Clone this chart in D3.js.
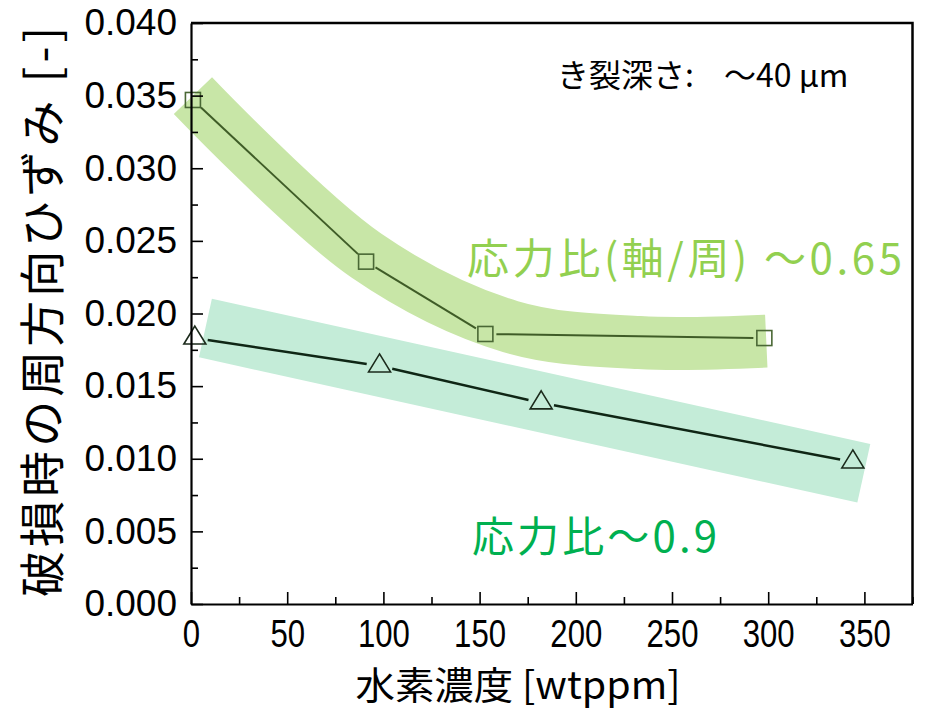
<!DOCTYPE html>
<html>
<head>
<meta charset="utf-8">
<script src="https://cdn.jsdelivr.net/npm/d3@7"></script>
<style>
	body { margin: 0; background: #fff; }
</style>
</head>
<body>
<script>
// Hydrogen concentration [wtppm] vs hoop strain at failure
const hydrogenSq = [1, 91, 153, 298]; // stress ratio ~0.65 (squares)
const strainSq = [0.0347, 0.02357, 0.01859, 0.01831];
const hydrogenTri = [2, 98, 182, 344]; // stress ratio ~0.9 (triangles)
const strainTri = [0.01831, 0.01639, 0.01385, 0.00978];

// centre lines of the shaded trend bands
const bandGreenX = [1, 91, 166, 233, 299];
const bandGreenY = [0.035, 0.0240, 0.0191, 0.0180, 0.0181];
const bandTealX = [7.5, 349.7];
const bandTealY = [0.0190, 0.0090];

// ticks
const xTicks = [0, 50, 100, 150, 200, 250, 300, 350];
const xMinor = [25, 75, 125, 175, 225, 275, 325, 375];
const yTicks = [0, 0.005, 0.01, 0.015, 0.02, 0.025, 0.03, 0.035, 0.04];
const yMinor = [0.0025, 0.0075, 0.0125, 0.0175, 0.0225, 0.0275, 0.0325, 0.0375];

const w = 926, h = 714;
const plotLeft = 191, plotRight = 912.5, plotTop = 23, plotBottom = 604;

const svg = d3.select("body").append("svg").attr("width", w).attr("height", h);

const x = d3.scaleLinear().domain([0, 375]).range([plotLeft, plotRight]);
const y = d3.scaleLinear().domain([0, 0.04]).range([plotBottom, plotTop]);

// bands
const bandLine = d3.line().x((d) => x(d[0])).y((d) => y(d[1]));
svg.append("path")
	.attr("d", bandLine.curve(d3.curveCatmullRom)(d3.zip(bandGreenX, bandGreenY)))
	.attr("fill", "none")
	.attr("stroke", "#c8e6a7")
	.attr("stroke-width", 53)
	.attr("stroke-linecap", "butt");
svg.append("path")
	.attr("d", bandLine.curve(d3.curveLinear)(d3.zip(bandTealX, bandTealY)))
	.attr("fill", "none")
	.attr("stroke", "#c4ecd8")
	.attr("stroke-width", 60)
	.attr("stroke-linecap", "butt");

// line segments that stop short of the markers
function drawSegments(xs, ys, gap, color, width) {
	for (let i = 0; i < xs.length - 1; i++) {
		const x1 = x(xs[i]), y1 = y(ys[i]), x2 = x(xs[i + 1]), y2 = y(ys[i + 1]);
		const len = Math.hypot(x2 - x1, y2 - y1);
		const ux = (x2 - x1) / len, uy = (y2 - y1) / len;
		svg.append("line")
			.attr("x1", x1 + ux * gap).attr("y1", y1 + uy * gap)
			.attr("x2", x2 - ux * gap).attr("y2", y2 - uy * gap)
			.attr("stroke", color)
			.attr("stroke-width", width);
	}
}
drawSegments(hydrogenSq, strainSq, 11, "#3f5c27", 2);
drawSegments(hydrogenTri, strainTri, 13, "#0f2615", 2.5);

// markers
svg.selectAll("rect.sq")
	.data(d3.zip(hydrogenSq, strainSq))
	.enter()
	.append("rect")
	.attr("class", "sq")
	.attr("x", (d) => x(d[0]) - 7.5)
	.attr("y", (d) => y(d[1]) - 7.5)
	.attr("width", 15)
	.attr("height", 15)
	.attr("fill", "none")
	.attr("stroke", "#4a6835")
	.attr("stroke-width", 1.6);

svg.selectAll("path.tri")
	.data(d3.zip(hydrogenTri, strainTri))
	.enter()
	.append("path")
	.attr("class", "tri")
	.attr("d", "M0,-12L11,6L-11,6Z")
	.attr("transform", (d) => `translate(${x(d[0])},${y(d[1])})`)
	.attr("fill", "none")
	.attr("stroke", "#1b2a1b")
	.attr("stroke-width", 1.6);

// x axis
const gx = svg.append("g")
	.attr("transform", `translate(0,${plotBottom})`)
	.call(d3.axisBottom(x).tickValues(xTicks).tickSizeInner(-12).tickSizeOuter(0).tickFormat(d3.format("d")));
gx.select(".domain").attr("stroke-width", 2.2);
gx.selectAll(".tick line").attr("stroke-width", 1.6);
gx.selectAll(".tick text")
	.attr("y", 16)
	.attr("dy", "0.71em")
	.attr("transform", "scale(0.82,1)")
	.attr("font-family", "'Liberation Sans', Arial, sans-serif")
	.attr("font-size", 38)
	.attr("fill", "#000");

svg.append("g")
	.attr("transform", `translate(0,${plotBottom})`)
	.call(d3.axisBottom(x).tickValues(xMinor).tickSizeInner(-7).tickSizeOuter(0).tickFormat(""))
	.call((g) => g.select(".domain").remove())
	.selectAll(".tick line").attr("stroke-width", 1.6);

// y axis
const gy = svg.append("g")
	.attr("transform", `translate(${plotLeft},0)`)
	.call(d3.axisLeft(y).tickValues(yTicks).tickSizeInner(-12).tickSizeOuter(0).tickPadding(14).tickFormat(d3.format(".3f")));
gy.select(".domain").attr("stroke-width", 2.2);
gy.selectAll(".tick line").attr("stroke-width", 1.6);
gy.selectAll(".tick text")
	.attr("font-family", "'Liberation Sans', Arial, sans-serif")
	.attr("font-size", 37)
	.attr("fill", "#000");

svg.append("g")
	.attr("transform", `translate(${plotLeft},0)`)
	.call(d3.axisLeft(y).tickValues(yMinor).tickSizeInner(-7).tickSizeOuter(0).tickFormat(""))
	.call((g) => g.select(".domain").remove())
	.selectAll(".tick line").attr("stroke-width", 1.6);

// frame top and right
svg.append("path")
	.attr("d", `M${plotLeft},${plotTop}H${plotRight}V${plotBottom}`)
	.attr("fill", "none")
	.attr("stroke", "#000")
	.attr("stroke-width", 2.5);

// axis titles
const cjk = "'Noto Sans CJK JP', 'Noto Sans', sans-serif";
svg.append("text")
	.attr("transform", "translate(59,312) rotate(-90)")
	.attr("text-anchor", "middle")
	.attr("font-family", cjk)
	.attr("font-size", 46)
	.attr("textLength", 570)
	.attr("lengthAdjust", "spacing")
	.text("破損時の周方向ひずみ [-]");

svg.append("text")
	.attr("x", 518)
	.attr("y", 699)
	.attr("text-anchor", "middle")
	.attr("font-family", cjk)
	.attr("font-size", 38)
	.attr("textLength", 325)
	.attr("lengthAdjust", "spacingAndGlyphs")
	.text("水素濃度 [wtppm]");

// annotations
const note = svg.append("text")
	.attr("y", 87)
	.attr("font-family", cjk)
	.attr("font-size", 32)
	.attr("fill", "#000");
note.append("tspan").attr("x", 557).text("き裂深さ:");
note.append("tspan").attr("x", 724).text("～40 μm");

svg.append("text")
	.attr("x", 467)
	.attr("y", 274)
	.attr("font-family", cjk)
	.attr("font-size", 42)
	.attr("fill", "#92d050")
	.attr("textLength", 435)
	.attr("lengthAdjust", "spacing")
	.text("応力比(軸/周) ～0.65");

svg.append("text")
	.attr("x", 472)
	.attr("y", 552)
	.attr("font-family", cjk)
	.attr("font-size", 42)
	.attr("fill", "#00b050")
	.attr("textLength", 245)
	.attr("lengthAdjust", "spacing")
	.text("応力比～0.9");
</script>
</body>
</html>
